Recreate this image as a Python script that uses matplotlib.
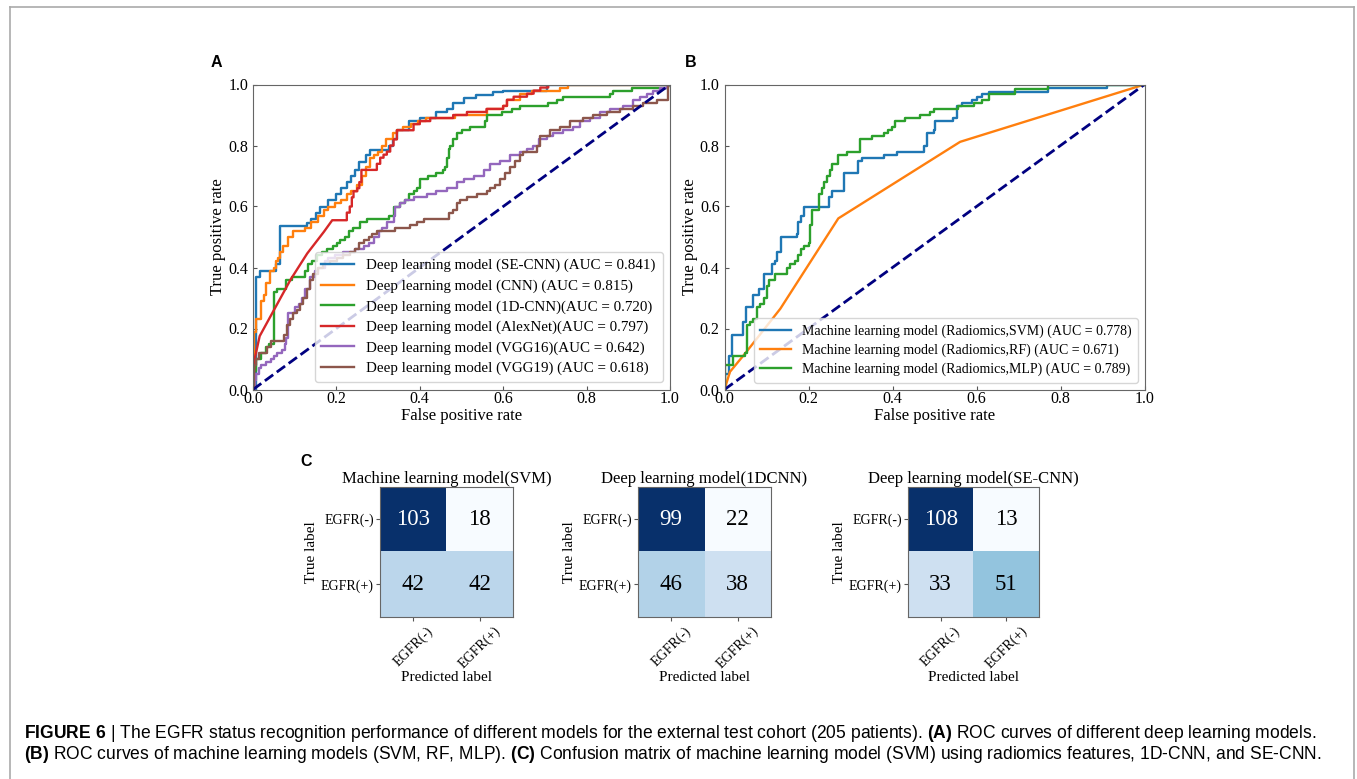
import matplotlib
matplotlib.use("Agg")
import matplotlib.pyplot as plt
import numpy as np
from matplotlib.lines import Line2D

plt.rcParams['font.family'] = ['Liberation Serif', 'DejaVu Serif']
plt.rcParams['mathtext.fontset'] = 'custom'
plt.rcParams['mathtext.rm'] = 'Liberation Sans'
plt.rcParams['mathtext.bf'] = 'Liberation Sans:bold'

# ---- panel A: deep learning ROC curves (step points: fpr where tpr jumps, new tpr)
se_cnn_fpr = [0, .006, .008, .016, .055, .065, .13, .14, .15, .16, .18, .20, .21, .225, .235, .245,
              .255, .27, .28, .325, .335, .345, .375, .40, .44, .465, .48, .505, .535, .575, .60, .705, 1.0]
se_cnn_tpr = [0, .23, .37, .39, .41, .535, .545, .56, .58, .60, .62, .64, .66, .68, .70, .72,
              .745, .77, .785, .80, .82, .85, .88, .89, .91, .92, .94, .955, .965, .975, .98, 1.0, 1.0]

cnn_fpr = [0, .002, .008, .018, .026, .032, .04, .05, .054, .059, .065, .073, .085, .097, .125, .14,
           .155, .17, .18, .197, .21, .225, .235, .25, .262, .272, .28, .29, .30, .31, .32,
           .335, .345, .36, .38, .395, .415, .485, .56, .60, .61, .64, .67, .737, .756, 1.0]
cnn_tpr = [0, .19, .23, .29, .31, .35, .39, .40, .42, .43, .45, .47, .50, .52, .53, .55,
           .57, .59, .60, .61, .62, .64, .65, .67, .70, .73, .76, .77, .78, .80, .82,
           .84, .85, .86, .87, .88, .89, .90, .92, .93, .95, .97, .98, .99, 1.0, 1.0]

cnn1d_fpr = [0, .002, .006, .018, .03, .038, .05, .058, .08, .093, .125, .133, .141, .153, .165, .177,
             .193, .201, .209, .221, .231, .241, .257, .273, .325, .337, .353, .365, .373, .385, .393,
             .40, .42, .44, .455, .461, .465, .469, .473, .48, .489, .50, .52, .557, .561, .597, .62,
             .64, .708, .728, .744, .856, .864, .91, .995, 1.0]
cnn1d_tpr = [0, .06, .10, .12, .14, .15, .32, .33, .36, .37, .39, .41, .42, .44, .45, .46,
             .47, .48, .49, .50, .52, .53, .55, .56, .57, .60, .61, .62, .64, .65, .66,
             .69, .70, .71, .72, .73, .76, .79, .80, .82, .84, .85, .86, .88, .90, .91, .92,
             .93, .94, .95, .96, .97, .98, .99, 1.0, 1.0]

# AlexNet starts with a straight run, then steps
alex_lead_fpr = [0, .004, .016, .05, .09, .13, .17, .19]
alex_lead_tpr = [0, .10, .175, .26, .36, .446, .517, .555]
alex_fpr = [.225, .232, .237, .241, .25, .255, .26, .297, .305, .313, .321, .329, .337, .345, .385,
            .40, .425, .48, .513, .56, .60, .609, .625, .657, .673, .689, .708, 1.0]
alex_tpr = [.58, .60, .63, .65, .66, .68, .72, .74, .76, .77, .78, .80, .82, .85, .87,
            .88, .89, .90, .91, .92, .93, .95, .96, .97, .98, .99, 1.0, 1.0]

vgg16_fpr = [0, .005, .008, .014, .019, .03, .042, .05, .058, .07, .077, .08, .083, .101, .11, .117,
             .125, .137, .149, .157, .173, .181, .197, .217, .245, .265, .277, .289, .301, .309, .321,
             .337, .341, .353, .365, .385, .417, .44, .465, .489, .505, .529, .553, .569, .593, .617,
             .64, .656, .672, .685, .704, .72, .744, .768, .784, .808, .832, .856, .888, .912, .928,
             .944, .96, .976, .992, 1.0]
vgg16_tpr = [0, .03, .05, .07, .08, .09, .10, .11, .12, .13, .15, .17, .25, .27, .28, .30,
             .33, .37, .39, .40, .42, .43, .44, .45, .46, .47, .48, .50, .52, .53, .55,
             .57, .60, .61, .62, .63, .64, .65, .66, .68, .69, .70, .72, .74, .75, .77,
             .78, .79, .80, .82, .83, .84, .85, .86, .88, .89, .91, .92, .93, .95, .96,
             .97, .98, .99, 1.0, 1.0]

vgg19_fpr = [0, .002, .006, .014, .034, .042, .074, .081, .089, .097, .105, .113, .121, .129, .137, .145,
             .157, .169, .185, .201, .217, .233, .245, .253, .265, .277, .285, .297, .341, .377, .393,
             .409, .469, .48, .489, .497, .513, .537, .56, .568, .58, .593, .605, .617, .629, .64,
             .648, .68, .688, .712, .736, .76, .792, .816, .848, .88, .912, .936, .968, .995, 1.0]
vgg19_tpr = [0, .08, .10, .12, .14, .16, .18, .21, .23, .25, .26, .28, .30, .33, .36, .38,
             .40, .41, .42, .43, .44, .45, .46, .48, .49, .50, .51, .52, .53, .54, .55,
             .56, .58, .59, .61, .62, .63, .64, .65, .66, .67, .69, .71, .73, .75, .77,
             .78, .80, .83, .85, .86, .88, .89, .90, .91, .92, .93, .94, .95, 1.0, 1.0]

labels_a = ['Deep learning model (SE-CNN) (AUC = 0.841)',
            'Deep learning model (CNN) (AUC = 0.815)',
            'Deep learning model (1D-CNN)(AUC = 0.720)',
            'Deep learning model (AlexNet)(AUC = 0.797)',
            'Deep learning model (VGG16)(AUC = 0.642)',
            'Deep learning model (VGG19) (AUC = 0.618)']

# ---- panel B: radiomics machine learning ROC curves
svm_fpr = [0, .002, .01, .017, .045, .052, .069, .081, .093, .113, .121, .126, .134, .172, .176,
           .182, .19, .248, .256, .285, .319, .327, .379, .41, .474, .482, .498, .5, .545, .553,
           .565, .589, .60, .613, .629, .77, .91, 1.0]
svm_tpr = [0, .05, .11, .18, .22, .27, .31, .33, .38, .41, .42, .45, .50, .51, .55,
           .57, .60, .63, .65, .71, .75, .76, .77, .78, .80, .84, .85, .88, .89, .93,
           .94, .95, .96, .97, .975, .99, 1.0, 1.0]

rf_fpr = [0, .013, .049, .133, .271, .561, 1.0]
rf_tpr = [0, .058, .118, .265, .561, .812, 1.0]

mlp_fpr = [0, .002, .021, .049, .053, .061, .069, .077, .085, .093, .1, .107, .121, .148, .156,
           .168, .176, .182, .19, .2, .204, .208, .226, .232, .237, .243, .252, .256, .271, .291,
           .323, .351, .379, .39, .398, .406, .43, .466, .49, .498, .557, .593, .613, .629, .692,
           .77, 1.0]
mlp_tpr = [0, .08, .11, .12, .21, .22, .23, .27, .28, .30, .34, .36, .38, .40, .41,
           .42, .44, .46, .47, .48, .54, .59, .64, .66, .68, .70, .72, .74, .77, .78,
           .82, .83, .84, .85, .86, .88, .89, .90, .91, .92, .93, .94, .95, .97, .985,
           1.0, 1.0]

labels_b = ['Machine learning model (Radiomics,SVM) (AUC = 0.778)',
            'Machine learning model (Radiomics,RF) (AUC = 0.671)',
            'Machine learning model (Radiomics,MLP) (AUC = 0.789)']

# ---- panel C: confusion matrices
class_names = ['EGFR(-)', 'EGFR(+)']
cm_titles = ['Machine learning model(SVM)', 'Deep learning model(1DCNN)', 'Deep learning model(SE-CNN)']
cm_svm = [[103, 18], [42, 42]]
cm_1dcnn = [[99, 22], [46, 38]]
cm_secnn = [[108, 13], [33, 51]]

caption1 = (r'$\mathbf{FIGURE\ 6}$ | The EGFR status recognition performance of different models for the '
            r'external test cohort (205 patients). $\mathbf{(A)}$ ROC curves of different deep learning models.')
caption2 = (r'$\mathbf{(B)}$ ROC curves of machine learning models (SVM, RF, MLP). $\mathbf{(C)}$ Confusion '
            r'matrix of machine learning model (SVM) using radiomics features, 1D-CNN, and SE-CNN.')


def stairs(x, y):
    # horizontal then vertical, like an ROC step
    xs = np.repeat(np.asarray(x, float), 2)[1:]
    ys = np.repeat(np.asarray(y, float), 2)[:-1]
    return xs, ys


W, H = 1357, 779
fig = plt.figure(figsize=(W / 100, H / 100), dpi=100)


def px_axes(x0, y0, x1, y1):
    return fig.add_axes([x0 / W, 1 - y1 / H, (x1 - x0) / W, (y1 - y0) / H])


def style_roc(ax):
    ax.set_xlim(0, 1)
    ax.set_ylim(0, 1)
    ax.set_xticks(np.arange(0, 1.01, 0.2))
    ax.set_yticks(np.arange(0, 1.01, 0.2))
    ax.tick_params(labelsize=11.5, colors='#555555', labelcolor='black', direction='in', length=3)
    ax.tick_params(axis='x', pad=0.8)
    ax.tick_params(axis='y', pad=3.5)
    for s in ax.spines.values():
        s.set_color('#666666')
    ax.set_xlabel('False positive rate', fontsize=12, labelpad=1)
    ax.set_ylabel('True positive rate', fontsize=12, labelpad=1.5)


# panel A
axA = px_axes(253, 84.5, 670, 389.5)
for (fx, ty), lab in zip([(se_cnn_fpr, se_cnn_tpr), (cnn_fpr, cnn_tpr), (cnn1d_fpr, cnn1d_tpr)], labels_a[:3]):
    xs, ys = stairs(fx, ty)
    axA.plot(xs, ys, lw=1.7, label=lab)
sx, sy = stairs([alex_lead_fpr[-1]] + alex_fpr, [alex_lead_tpr[-1]] + alex_tpr)
axA.plot(np.concatenate([alex_lead_fpr[:-1], sx]), np.concatenate([alex_lead_tpr[:-1], sy]),
         lw=1.7, label=labels_a[3])
for (fx, ty), lab in zip([(vgg16_fpr, vgg16_tpr), (vgg19_fpr, vgg19_tpr)], labels_a[4:]):
    xs, ys = stairs(fx, ty)
    axA.plot(xs, ys, lw=1.7, label=lab)
axA.plot([0, 1], [0, 1], color='navy', lw=2, linestyle='--')
style_roc(axA)
axA.legend(loc='lower right', fontsize=10.8, labelspacing=0.46, handlelength=2.2, borderpad=0.45)

# panel B
axB = px_axes(724.5, 84.5, 1144.5, 389.5)
xs, ys = stairs(svm_fpr, svm_tpr)
axB.plot(xs, ys, lw=1.7, label=labels_b[0])
axB.plot(rf_fpr, rf_tpr, lw=1.7, label=labels_b[1])
xs, ys = stairs(mlp_fpr, mlp_tpr)
axB.plot(xs, ys, lw=1.7, label=labels_b[2])
axB.plot([0, 1], [0, 1], color='navy', lw=2, linestyle='--')
style_roc(axB)
axB.legend(loc='lower right', fontsize=10, labelspacing=0.42, handlelength=2.2, borderpad=0.45)

# panel C
cm_boxes = [(380, 486.5, 513, 617), (638, 486.5, 771, 617), (908, 486.5, 1039, 617)]
for cm, title, box in zip([cm_svm, cm_1dcnn, cm_secnn], cm_titles, cm_boxes):
    ax = px_axes(*box)
    cm = np.array(cm)
    ax.imshow(cm, cmap='Blues', aspect='auto')
    thresh = (cm.max() + cm.min()) / 2
    for i in range(2):
        for j in range(2):
            ax.text(j, i, str(cm[i, j]), ha='center', va='center', fontsize=16.5,
                    color='white' if cm[i, j] > thresh else 'black')
    ax.set_xticks([0, 1])
    ax.set_yticks([0, 1])
    ax.set_xticklabels(class_names, rotation=45, fontsize=10)
    ax.set_yticklabels(class_names, fontsize=10)
    ax.tick_params(colors='#555555', labelcolor='black', length=3)
    ax.tick_params(axis='y', pad=1.5)
    ax.tick_params(axis='x', pad=2)
    ax.set_ylabel('True label', fontsize=11, labelpad=2)
    ax.set_xlabel('Predicted label', fontsize=11, labelpad=0)
    ax.set_title(title, fontsize=12, pad=2)
    for s in ax.spines.values():
        s.set_color('#666666')

# panel letters
for lab, x, y in [('A', 216.5, 62.5), ('B', 691, 62.5), ('C', 306, 461)]:
    fig.text(x / W, 1 - y / H, lab, fontsize=11.5, fontweight='bold', family='Liberation Sans',
             ha='center', va='center')

# frame around the figure (left, top, right)
frame = '#aaaaaa'
fig.add_artist(Line2D([9.5 / W, 9.5 / W], [0, 1 - 6.5 / H], color=frame, lw=1.2))
fig.add_artist(Line2D([9.5 / W, 1353.5 / W], [1 - 6.5 / H, 1 - 6.5 / H], color=frame, lw=1.2))
fig.add_artist(Line2D([1353.5 / W, 1353.5 / W], [0, 1 - 6.5 / H], color=frame, lw=1.2))

# caption, sized to the reference line width
t1 = fig.text(24 / W, 1 - 734 / H, caption1, fontsize=10, family='Liberation Sans', va='center')
t2 = fig.text(24 / W, 1 - 754.5 / H, caption2, fontsize=10, family='Liberation Sans', va='center')
r = fig.canvas.get_renderer()
w1 = t1.get_window_extent(r).width
size = 10 * 1295 / w1
t1.set_fontsize(size)
t2.set_fontsize(size)

fig.savefig('out.png', dpi=100)
